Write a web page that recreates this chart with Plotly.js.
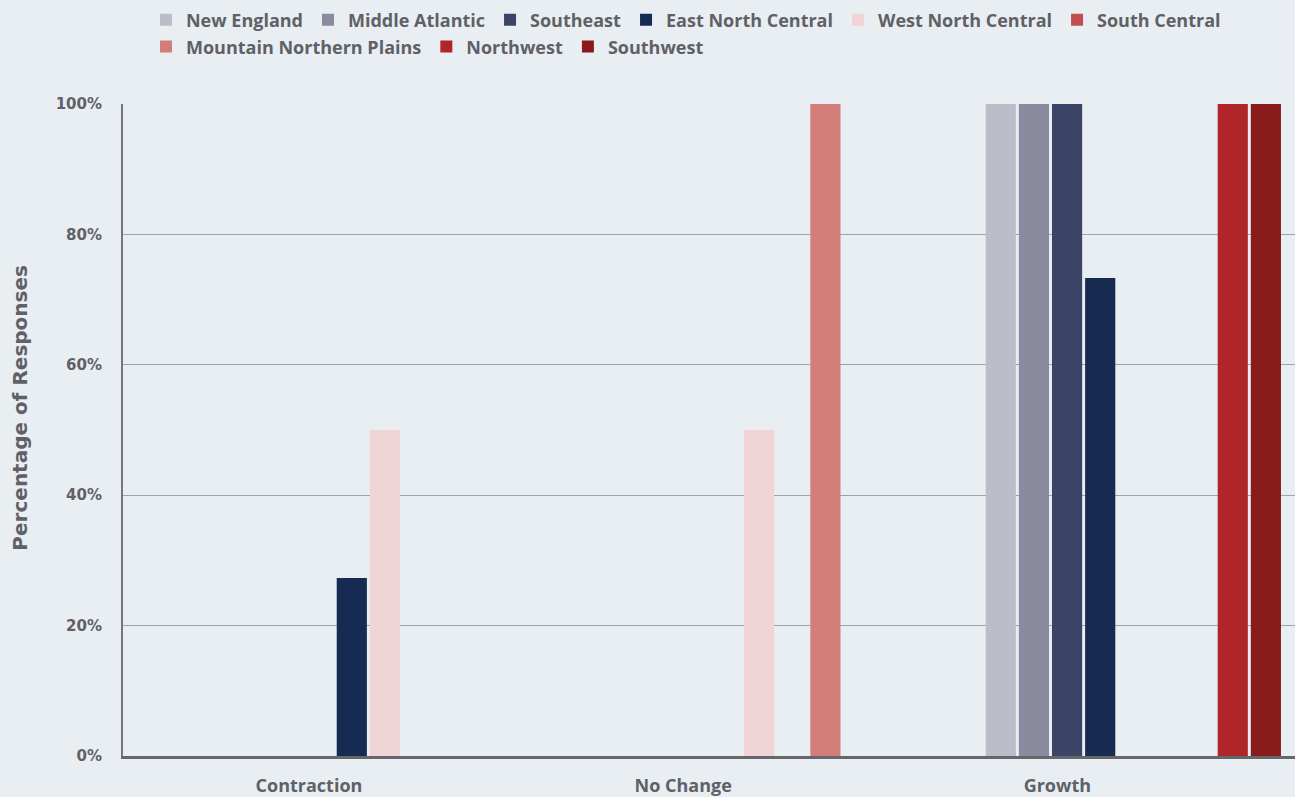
<!DOCTYPE html>
<html>
<head>
<meta charset="utf-8">
<script src="https://cdn.plot.ly/plotly-3.0.1.min.js"></script>
<style>
  html, body { margin: 0; padding: 0; background: #e9eef3; }
  #chart { width: 1295px; height: 797px; }
</style>
</head>
<body>
<div id="chart"></div>
<script>
const categories = ["Contraction", "No Change", "Growth"];
const regions = ["New England", "Middle Atlantic", "Southeast", "East North Central",
  "West North Central", "South Central", "Mountain Northern Plains", "Northwest", "Southwest"];
const newEngland = [0, 0, 100];
const middleAtlantic = [0, 0, 100];
const southeast = [0, 0, 100];
const eastNorthCentral = [27.3, 0, 73.3];
const westNorthCentral = [50, 50, 0];
const southCentral = [0, 0, 0];
const mountainNorthernPlains = [0, 100, 0];
const northwest = [0, 0, 100];
const southwest = [0, 0, 100];
const yTickVals = [0, 20, 40, 60, 80, 100];
const yTickText = ["0%", "20%", "40%", "60%", "80%", "100%"];
const yAxisTitle = "Percentage of Responses";

const seriesValues = [newEngland, middleAtlantic, southeast, eastNorthCentral,
  westNorthCentral, southCentral, mountainNorthernPlains, northwest, southwest];
const colors = ["#bcbdc8", "#8c8a9e", "#3b4466", "#172a52", "#f0d3d5",
  "#c24e50", "#d27d7a", "#b02528", "#8a1b1d"];

const textColor = "#5f6166";
const fontFam = "'Open Sans', sans-serif";

const traces = regions.map((name, i) => ({
  type: "bar",
  name: name,
  x: categories,
  y: seriesValues[i],
  legend: i < 6 ? "legend" : "legend2",
  marker: { color: colors[i], line: { width: 0 } },
  hoverinfo: "name+y"
}));

const legendCommon = {
  orientation: "h",
  x: 0.0196,
  xanchor: "left",
  yanchor: "top",
  font: { family: fontFam, size: 18, color: textColor, weight: 700 },
  bgcolor: "rgba(0,0,0,0)",
  itemwidth: 30,
  traceorder: "normal"
};

const layout = {
  width: 1295,
  height: 797,
  paper_bgcolor: "#e9eef3",
  plot_bgcolor: "#e9eef3",
  margin: { l: 123, r: 0, t: 104, b: 41 },
  barmode: "group",
  bargap: 0.203,
  bargroupgap: 0.09,
  font: { family: fontFam, color: textColor, size: 17, weight: 700 },
  showlegend: true,
  legend: Object.assign({}, legendCommon, { y: 1.157 }),
  legend2: Object.assign({}, legendCommon, { y: 1.116 }),
  xaxis: {
    type: "category",
    categoryorder: "array",
    categoryarray: categories,
    range: [-0.70, 2.432],
    showgrid: false,
    zeroline: false,
    showline: true,
    linecolor: "#65676b",
    linewidth: 3,
    ticks: "",
    ticklabelstandoff: 11,
    ticklabelshift: -76,
    tickfont: { family: fontFam, size: 18, color: textColor, weight: 700 },
    fixedrange: true
  },
  yaxis: {
    range: [0, 100],
    tickvals: yTickVals,
    ticktext: yTickText,
    showgrid: true,
    gridcolor: "#9ea3ab",
    gridwidth: 1,
    zeroline: false,
    showline: true,
    linecolor: "#74767b",
    linewidth: 2,
    ticks: "",
    ticklabelstandoff: 16,
    tickfont: { family: "'DejaVu Sans', sans-serif", size: 15, color: textColor, weight: 700 },
    fixedrange: true
  },
  annotations: [{
    text: yAxisTitle,
    xref: "paper", yref: "paper",
    x: -0.0875, y: 0.535,
    xanchor: "center", yanchor: "middle",
    textangle: -90,
    showarrow: false,
    font: { family: "'DejaVu Sans', sans-serif", size: 20, color: textColor, weight: 700 }
  }]
};

Plotly.newPlot("chart", traces, layout, { displayModeBar: false, staticPlot: true });
</script>
</body>
</html>
